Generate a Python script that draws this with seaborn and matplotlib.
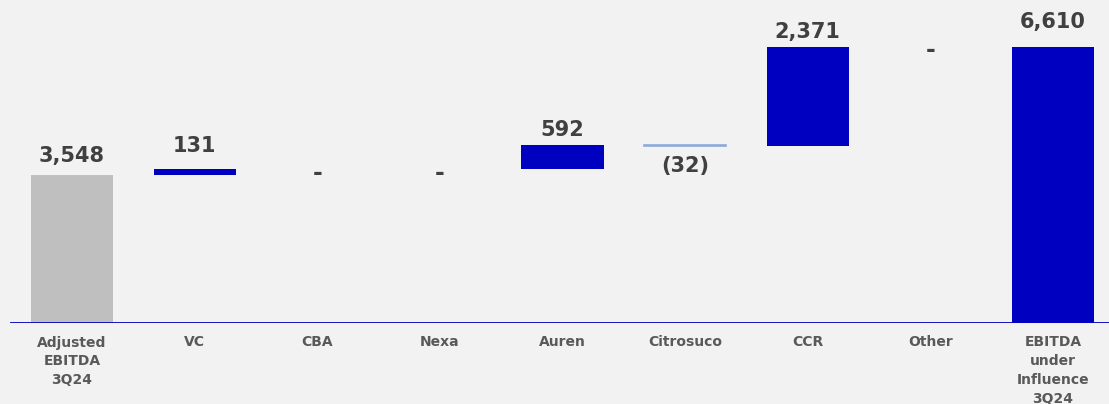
import matplotlib
matplotlib.use("Agg")
import matplotlib.pyplot as plt
import seaborn as sns

# waterfall data (R$ million)
categorias = ["Adjusted\nEBITDA\n3Q24", "VC", "CBA", "Nexa", "Auren",
              "Citrosuco", "CCR", "Other", "EBITDA\nunder\nInfluence\n3Q24"]
valores = [3548, 131, 0, 0, 592, -32, 2371, 0, 6610]
tipos = ["total", "delta", "delta", "delta", "delta", "delta", "delta", "delta", "total"]
rotulos = ["3,548", "131", "-", "-", "592", "(32)", "2,371", "-", "6,610"]

cinza = "#bfbfbf"
azul = "#0000c0"
azul_claro = "#8eaadb"

# distância (pt) entre rótulo e barra
offsets = [6.5, 9.5, -2.5, -2.5, 3.5, -7.5, 3.5, -2.5, 10.5]

# bases e alturas das barras
bases = []
alturas = []
cores = []
acum = 0
for i, (v, t) in enumerate(zip(valores, tipos)):
    if t == "total":
        bases.append(0)
        alturas.append(v)
        acum = v
    else:
        bases.append(acum if v >= 0 else acum + v)
        alturas.append(abs(v))
        acum += v
    if i == 0:
        cores.append(cinza)
    else:
        cores.append(azul if v >= 0 else azul_claro)

sns.set_theme(style="white")
plt.rcParams["font.family"] = ["DejaVu Sans"]

fig = plt.figure(figsize=(11.09, 4.04), dpi=100, facecolor="#f2f2f2")
ax = fig.add_axes([10 / 1109, 1 - 323 / 404, 1099 / 1109, 323 / 404])
ax.set_facecolor("#f2f2f2")

sns.barplot(x=list(range(len(categorias))), y=alturas, bottom=bases, color=azul,
            width=0.67, ax=ax, saturation=1, linewidth=0)
for p, c, v in zip(ax.patches, cores, valores):
    p.set_facecolor(c)
    if v < 0:
        p.set_edgecolor(c)
        p.set_linewidth(1.2)

# rótulos de valor
acum = 0
for i, (v, t, r) in enumerate(zip(valores, tipos, rotulos)):
    kw = dict(textcoords="offset points", ha="center", fontsize=15, fontweight="bold", color="#404040")
    if r == "-":
        kw["fontsize"] = 17
    if t == "total":
        acum = v
        ax.annotate(r, (i, v), xytext=(0, offsets[i]), va="bottom", **kw)
    elif v == 0:
        ax.annotate(r, (i, acum), xytext=(0, offsets[i]), va="center", **kw)
    elif v > 0:
        acum += v
        ax.annotate(r, (i, acum), xytext=(0, offsets[i]), va="bottom", **kw)
    else:
        ax.annotate(r, (i, acum + v), xytext=(0, offsets[i]), va="top", **kw)
        acum += v

ax.axhline(0, color=azul, linewidth=2)
ax.set_xlim(-0.506, 8.458)
ax.set_ylim(0, 7735)
ax.set_yticks([])
ax.set_xticks(range(len(categorias)))
ax.set_xticklabels(categorias, fontsize=10, fontweight="bold", color="#595959", linespacing=1.45)
ax.tick_params(axis="x", length=0, pad=9)
for s in ax.spines.values():
    s.set_visible(False)
ax.set_xlabel("")
ax.set_ylabel("")

fig.savefig("out.png", dpi=100, facecolor=fig.get_facecolor())
